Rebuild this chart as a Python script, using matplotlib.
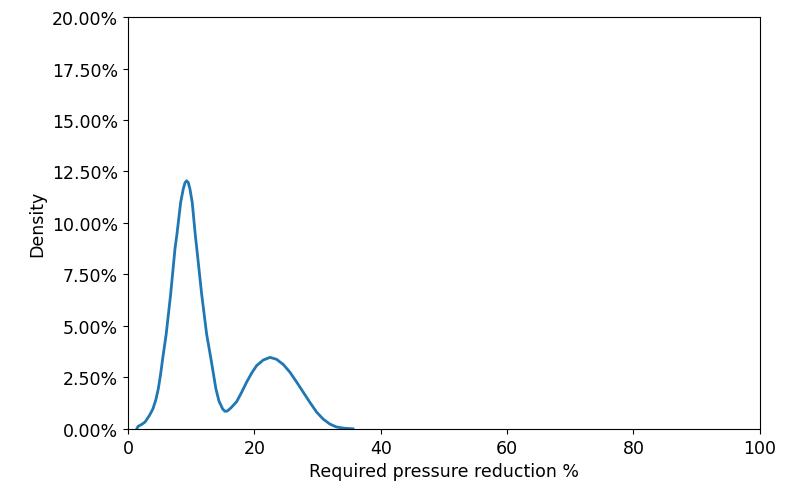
import matplotlib
matplotlib.use("Agg")
import matplotlib.pyplot as plt
from matplotlib.ticker import PercentFormatter, MultipleLocator

# values
reduction = [1.4, 1.6, 2.2, 2.7, 3.4, 3.95, 4.4, 4.8, 5.15, 5.49, 6.05, 6.76,
             7.44, 7.75, 8.34, 8.75, 9.02, 9.29, 9.56, 9.81, 10.17, 10.66,
             10.9, 11.66, 12.45, 13.13, 13.92, 14.4, 14.98, 15.35, 15.75,
             16.3, 17.2, 18.0, 18.78, 19.6, 20.36, 21.4, 22.47, 23.5, 24.6,
             25.63, 26.7, 27.74, 28.8, 29.86, 30.9, 31.96, 33.0, 34.2, 35.6]
density = [0.0, 0.0012, 0.0022, 0.0033, 0.0065, 0.0097, 0.0140, 0.0194,
           0.0262, 0.0340, 0.0460, 0.0655, 0.0874, 0.0945, 0.1100, 0.1165,
           0.1195, 0.1205, 0.1195, 0.1165, 0.1100, 0.0940, 0.0874, 0.0655,
           0.0460, 0.0340, 0.0194, 0.0135, 0.0097, 0.0085, 0.0087, 0.0102,
           0.0132, 0.0178, 0.0227, 0.0272, 0.0307, 0.0334, 0.0347, 0.0338,
           0.0312, 0.0275, 0.0227, 0.0178, 0.0128, 0.0081, 0.0047, 0.0023,
           0.0009, 0.0003, 0.0]

fig = plt.figure(figsize=(7.85, 4.89), dpi=100)
ax = fig.add_axes([0.163, 0.121, 0.805, 0.842])

ax.plot(reduction, density, color="#1f77b4", linewidth=2)

ax.set_xlim(0, 100)
ax.set_ylim(0, 0.20)
ax.yaxis.set_major_locator(MultipleLocator(0.025))
ax.yaxis.set_major_formatter(PercentFormatter(xmax=1, decimals=2))
ax.tick_params(labelsize=12.5)
ax.set_xlabel("Required pressure reduction %", fontsize=12.5)
ax.set_ylabel("Density", fontsize=12.5)

plt.savefig("out.png", dpi=100)
